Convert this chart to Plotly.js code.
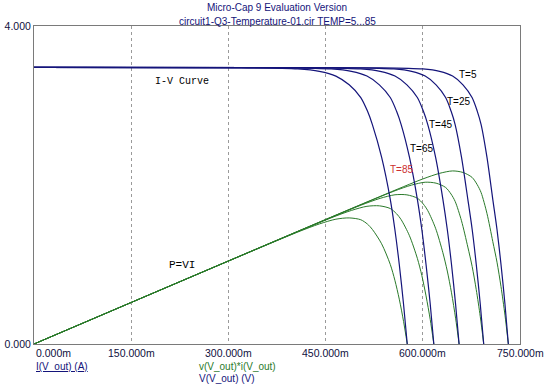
<!DOCTYPE html>
<html>
<head>
<meta charset="utf-8">
<script src="https://cdn.plot.ly/plotly-3.0.1.min.js"></script>
<style>html,body{margin:0;padding:0;background:#fff;}#chart{width:547px;height:388px;}</style>
</head>
<body>
<div id="chart"></div>
<script>
// ---- data ----
const tempLabels = ['T=5', 'T=25', 'T=45', 'T=65', 'T=85'];
const xTickVals = [0, 0.15, 0.30, 0.45, 0.60, 0.75];
const xTickText = ['0.000m', '150.000m', '300.000m', '450.000m', '600.000m', '750.000m'];
const yTickVals = [0, 4];
const yTickText = ['0.000', '4.000'];

// V(V_out) in volts
const vT5  = [0, 0.532, 0.600, 0.626, 0.646, 0.662, 0.676, 0.684, 0.690, 0.699, 0.708, 0.7145, 0.7207, 0.7268, 0.732];
const vT25 = [0, 0.484, 0.5554, 0.5827, 0.6037, 0.6205, 0.6352, 0.6436, 0.6499, 0.6597, 0.6695, 0.6762, 0.6825, 0.6887, 0.694];
const vT45 = [0, 0.426, 0.5042, 0.5341, 0.5571, 0.5755, 0.5916, 0.6008, 0.6077, 0.6197, 0.6310, 0.6378, 0.6443, 0.6506, 0.656];
const vT65 = [0, 0.377, 0.4586, 0.4898, 0.5138, 0.5330, 0.5498, 0.5594, 0.5666, 0.5794, 0.5916, 0.5985, 0.6050, 0.6115, 0.617];
const vT85 = [0, 0.320, 0.4070, 0.4403, 0.4659, 0.4864, 0.5043, 0.5146, 0.5222, 0.5364, 0.5498, 0.5569, 0.5637, 0.5703, 0.576];

// I(V_out) in amps
const iT5  = [3.48, 3.475, 3.46, 3.43, 3.37, 3.26, 3.10, 2.93, 2.76, 2.35, 1.82, 1.44, 1.00, 0.50, 0];
const iT25 = [3.48, 3.475, 3.46, 3.43, 3.37, 3.26, 3.10, 2.93, 2.76, 2.35, 1.82, 1.44, 1.00, 0.50, 0];
const iT45 = [3.48, 3.475, 3.46, 3.43, 3.37, 3.26, 3.10, 2.93, 2.76, 2.35, 1.82, 1.44, 1.00, 0.50, 0];
const iT65 = [3.48, 3.475, 3.46, 3.43, 3.37, 3.26, 3.10, 2.93, 2.76, 2.35, 1.82, 1.44, 1.00, 0.50, 0];
const iT85 = [3.48, 3.475, 3.46, 3.43, 3.37, 3.26, 3.10, 2.93, 2.76, 2.35, 1.82, 1.44, 1.00, 0.50, 0];

// v(V_out)*i(V_out) in watts
const pT5  = [0, 1.849, 2.076, 2.147, 2.177, 2.158, 2.096, 2.004, 1.904, 1.643, 1.289, 1.029, 0.721, 0.363, 0];
const pT25 = [0, 1.682, 1.922, 1.999, 2.035, 2.023, 1.969, 1.886, 1.794, 1.550, 1.219, 0.974, 0.683, 0.344, 0];
const pT45 = [0, 1.480, 1.745, 1.832, 1.877, 1.876, 1.834, 1.760, 1.677, 1.456, 1.148, 0.918, 0.644, 0.325, 0];
const pT65 = [0, 1.310, 1.587, 1.680, 1.732, 1.738, 1.704, 1.639, 1.564, 1.362, 1.077, 0.862, 0.605, 0.306, 0];
const pT85 = [0, 1.112, 1.408, 1.510, 1.570, 1.586, 1.563, 1.508, 1.441, 1.261, 1.001, 0.802, 0.564, 0.285, 0];

const vSets = [vT5, vT25, vT45, vT65, vT85];
const iSets = [iT5, iT25, iT45, iT65, iT85];
const pSets = [pT5, pT25, pT45, pT65, pT85];

// ---- styling ----
const NAVY = '#14147a';
const GREEN = '#2a7a2a';
const FONT = 'Liberation Sans, Arial, sans-serif';
const MONO = 'Liberation Mono, Courier New, monospace';

const traces = [];
for (let k = 0; k < 5; k++) {
  traces.push({
    x: vSets[k], y: pSets[k], type: 'scatter', mode: 'lines', name: 'P ' + tempLabels[k],
    line: {color: GREEN, width: 1, shape: 'spline', smoothing: 0.8}, hoverinfo: 'skip'
  });
}
for (let k = 0; k < 5; k++) {
  traces.push({
    x: vSets[k], y: iSets[k], type: 'scatter', mode: 'lines', name: 'I ' + tempLabels[k],
    line: {color: NAVY, width: 1.2, shape: 'spline', smoothing: 0.8}, hoverinfo: 'skip'
  });
}

const annotations = [];
// x tick labels
xTickVals.forEach((v, i) => {
  annotations.push({
    x: v, xref: 'x', y: 0, yref: 'paper', yshift: -9, text: xTickText[i], showarrow: false,
    xanchor: i === 0 ? 'left' : 'center', yanchor: 'middle',
    font: {family: FONT, size: 10.5, color: '#101040'}
  });
});
// subtitle
annotations.push({x: 0.5, xref: 'paper', y: 1.0157, yref: 'paper', text: 'circuit1-Q3-Temperature-01.cir TEMP=5...85',
  showarrow: false, xanchor: 'center', yanchor: 'middle', font: {family: FONT, size: 10, color: NAVY}});
// bottom axis labels
annotations.push({x: 0, xref: 'paper', y: -0.071, yref: 'paper', text: '<u>I(V_out) (A)</u>',
  showarrow: false, xanchor: 'left', yanchor: 'middle', font: {family: FONT, size: 10, color: NAVY}});
annotations.push({x: 0.3354, xref: 'paper', y: -0.071, yref: 'paper', text: 'v(V_out)*i(V_out)',
  showarrow: false, xanchor: 'left', yanchor: 'middle', font: {family: FONT, size: 10, color: GREEN}});
annotations.push({x: 0.3354, xref: 'paper', y: -0.110, yref: 'paper', text: 'V(V_out) (V)',
  showarrow: false, xanchor: 'left', yanchor: 'middle', font: {family: FONT, size: 10, color: NAVY}});
// curve labels
annotations.push({x: 0.1836, y: 3.30, xref: 'x', yref: 'y', text: 'I-V Curve', showarrow: false,
  xanchor: 'left', yanchor: 'middle', font: {family: MONO, size: 10, color: '#000'}});
annotations.push({x: 0.2048, y: 0.994, xref: 'x', yref: 'y', text: 'P=VI', showarrow: false,
  xanchor: 'left', yanchor: 'middle', font: {family: MONO, size: 11, color: '#000'}});
const tPos = [[0.6535, 3.396], [0.6343, 3.048], [0.6065, 2.755], [0.5764, 2.462], [0.5463, 2.189]];
tempLabels.forEach((t, k) => {
  annotations.push({x: tPos[k][0], y: tPos[k][1], xref: 'x', yref: 'y', text: t, showarrow: false,
    xanchor: 'left', yanchor: 'middle',
    font: {family: FONT, size: 10, color: k === 4 ? '#cc3030' : '#000'}});
});

const layout = {
  width: 547, height: 388,
  margin: {l: 34, r: 27, t: 26, b: 44, pad: 0},
  paper_bgcolor: '#fff', plot_bgcolor: '#fff',
  showlegend: false,
  title: {text: 'Micro-Cap 9 Evaluation Version', x: 0.5, xref: 'paper', xanchor: 'center',
    y: 1 - 7.5 / 388, yref: 'container', yanchor: 'middle',
    font: {family: FONT, size: 10, color: NAVY}},
  xaxis: {
    range: [0, 0.75], tickvals: xTickVals, showticklabels: false, ticks: '',
    showgrid: true, gridcolor: '#9a9a9a', griddash: '3px,3px', gridwidth: 1,
    showline: true, linecolor: '#7a7a7a', linewidth: 1, mirror: true, zeroline: false, fixedrange: true
  },
  yaxis: {
    range: [0, 4], tickvals: yTickVals, ticktext: yTickText, ticks: '', showgrid: false,
    tickfont: {family: FONT, size: 10.5, color: '#101040'},
    showline: true, linecolor: '#7a7a7a', linewidth: 1, mirror: true, zeroline: false, fixedrange: true
  },
  annotations: annotations
};

Plotly.newPlot('chart', traces, layout, {staticPlot: true, displayModeBar: false});
</script>
</body>
</html>
